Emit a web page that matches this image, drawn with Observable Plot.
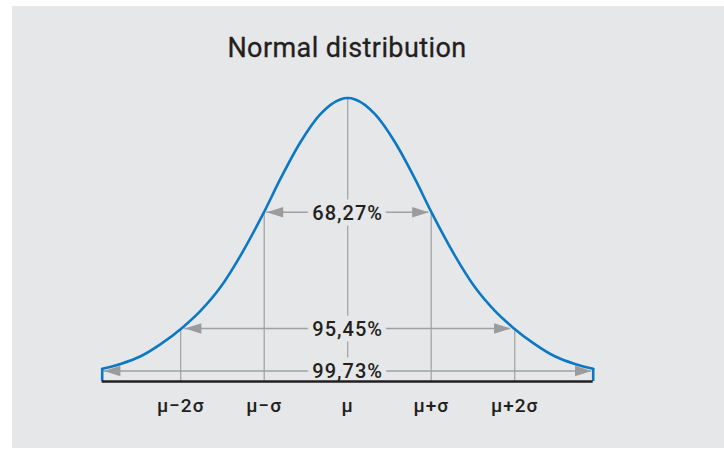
<!DOCTYPE html>
<html>
<head>
<meta charset="utf-8">
<script src="https://cdn.jsdelivr.net/npm/d3@7"></script>
<script src="https://cdn.jsdelivr.net/npm/@observablehq/plot@0.6"></script>
<style>
  html, body { margin: 0; padding: 0; background: #ffffff; width: 724px; height: 449px; overflow: hidden; }
  #panel { position: absolute; left: 12px; top: 6px; width: 712px; height: 442px; background: #e6e7e9; }
  #title { position: absolute; left: 0; top: 0; width: 694px; height: 70px; text-align: center;
           font-family: Roboto, "Noto Sans", sans-serif; font-size: 27px; font-weight: 400; color: #231f20;
           line-height: 27px; padding-top: 35px; box-sizing: border-box; letter-spacing: 0.4px;
           -webkit-text-stroke: 0.3px #231f20; }
  #chart { position: absolute; left: 0; top: 70px; }
</style>
</head>
<body>
<div id="panel"></div>
<div id="title">Normal distribution</div>
<div id="chart"></div>
<script>
// Curve: x in σ units from μ, height relative to the peak
const curveX = [-2.94, -2.72, -2.48, -2.24, -1.98, -1.76, -1.52, -1.28, -1.01, -0.80, -0.57, -0.33, -0.09, 0,
                0.09, 0.33, 0.57, 0.80, 1.01, 1.28, 1.52, 1.76, 1.98, 2.24, 2.48, 2.72, 2.94];
const curveY = [0.045, 0.062, 0.089, 0.132, 0.190, 0.250, 0.334, 0.446, 0.593, 0.718, 0.842, 0.942, 0.995, 1.0,
                0.995, 0.942, 0.842, 0.718, 0.593, 0.446, 0.334, 0.250, 0.190, 0.132, 0.089, 0.062, 0.045];

// Axis ticks
const tickValues = [-2, -1, 0, 1, 2];
const tickLabels = ["μ−2σ", "μ−σ", "μ", "μ+σ", "μ+2σ"];

// Guide lines (vertical) up to the curve
const guideX = [-2, -1, 0, 1, 2];
const guideTop = [0.187, 0.597, 1.0, 0.597, 0.187];

// Interval arrows
const bandLabels = ["68,27%", "95,45%", "99,73%"];
const bandLevels = [0.597, 0.187, 0.037];
const bandTips = [0.97, 1.95, 2.92];

// Extent of the drawn distribution
const xExtent = [-2.94, 2.94];
const endHeight = 0.045;

const BG = "#e6e7e9";
const BLUE = "#0b78c3";
const GRAY = "#a0a0a0";
const DARK = "#231f20";

const curve = curveX.map((x, i) => ({x, y: curveY[i]}));
const guides = guideX.map((x, i) => ({x, top: guideTop[i]}));
const bands = bandLabels.map((label, i) => ({label, y: bandLevels[i], tip: bandTips[i]}));
const tips = bands.flatMap(b => [{x: -b.tip, y: b.y, rot: 180}, {x: b.tip, y: b.y, rot: 0}]);
const ticks = tickValues.map((x, i) => ({x, label: tickLabels[i]}));
const ends = xExtent.map(x => ({x, top: endHeight}));

// arrowhead shape pointing right, tip at origin
const arrowHead = {
  draw(ctx) {
    ctx.moveTo(0, 0);
    ctx.lineTo(-16.5, -5.3);
    ctx.lineTo(-16.5, 5.3);
    ctx.closePath();
  }
};

const chart = Plot.plot({
  width: 724,
  height: 379,
  marginLeft: 101.7,
  marginRight: 131.3,
  marginTop: 27.5,
  marginBottom: 68,
  style: {background: "transparent", fontFamily: "Roboto, 'Noto Sans', sans-serif"},
  x: {domain: xExtent, axis: null},
  y: {domain: [0, 1], axis: null},
  marks: [
    Plot.ruleX(guides, {x: "x", y1: 0, y2: "top", stroke: GRAY, strokeWidth: 1.2}),
    Plot.ruleY(bands, {y: "y", x1: d => -d.tip, x2: d => d.tip, stroke: GRAY, strokeWidth: 1.5}),
    Plot.dot(tips, {x: "x", y: "y", rotate: "rot", symbol: arrowHead, fill: "#9b9b9b", stroke: null, r: 5}),
    Plot.line(curve, {x: "x", y: "y", curve: "monotone-x", stroke: BLUE, strokeWidth: 2.6}),
    Plot.ruleX(ends, {x: "x", y1: 0, y2: "top", stroke: BLUE, strokeWidth: 2.6}),
    Plot.text(bands, {x: 0, y: "y", text: "label", fontSize: 20, fontWeight: 500, fill: DARK, stroke: BG, strokeWidth: 11,
                      lineAnchor: "middle", dy: 1}),
    Plot.ruleY([0], {x1: xExtent[0], x2: xExtent[1], stroke: DARK, strokeWidth: 2.6}),
    Plot.text(ticks, {x: "x", y: 0, text: "label", fontSize: 19, fontWeight: 500, fill: DARK, lineAnchor: "bottom", dy: 30})
  ]
});
document.getElementById("chart").appendChild(chart);
// letter spacing for labels
chart.querySelectorAll("text").forEach(t => t.style.letterSpacing = "1px");
</script>
</body>
</html>
